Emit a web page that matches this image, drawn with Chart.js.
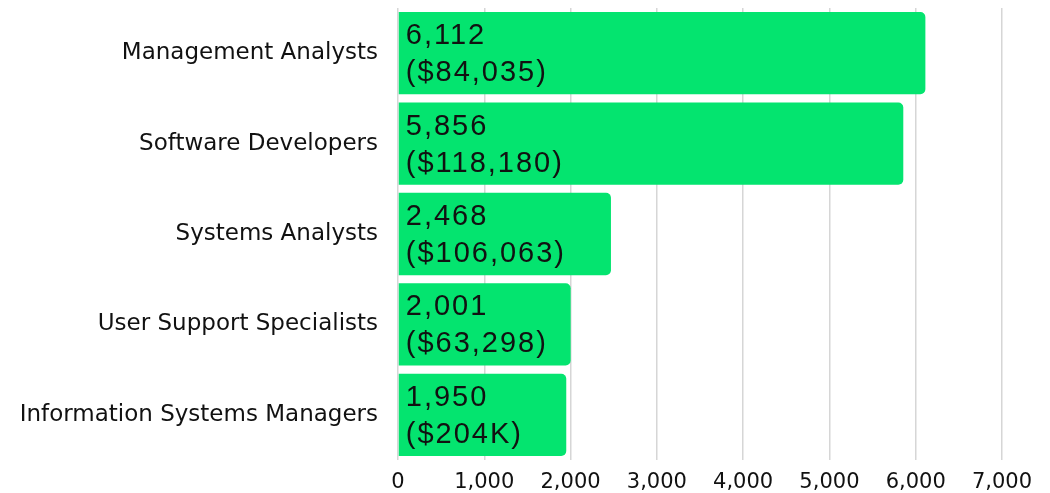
<!DOCTYPE html>
<html>
<head>
<meta charset="utf-8">
<script src="https://cdn.jsdelivr.net/npm/chart.js@4/dist/chart.umd.min.js"></script>
<style>
  html, body { margin: 0; padding: 0; background: #fff; }
  #wrap { width: 1050px; height: 493px; }
</style>
</head>
<body>
<div id="wrap"><canvas id="jobsChart" width="1050" height="493"></canvas></div>
<script>
// occupations, job postings and median salary
const occupations = [
  "Management Analysts",
  "Software Developers",
  "Systems Analysts",
  "User Support Specialists",
  "Information Systems Managers",
];
const postings = [6112, 5856, 2468, 2001, 1950];
const salaries = ["$84,035", "$118,180", "$106,063", "$63,298", "$204K"];
const xTicks = [0, 1000, 2000, 3000, 4000, 5000, 6000, 7000];

// labels inside the bars, two lines
const insideLabels = {
  id: "insideLabels",
  afterDatasetsDraw(chart) {
    const { ctx } = chart;
    const meta = chart.getDatasetMeta(0);
    ctx.save();
    ctx.fillStyle = "#111";
    ctx.font = "29px 'Liberation Sans', Arial, sans-serif";
    ctx.textAlign = "left";
    ctx.textBaseline = "middle";
    if ("letterSpacing" in ctx) ctx.letterSpacing = "2px";
    meta.data.forEach((bar, i) => {
      const x = bar.base + 7;
      ctx.fillText(postings[i].toLocaleString("en-US"), x, bar.y - 17);
      ctx.fillText("(" + salaries[i] + ")", x, bar.y + 20);
    });
    ctx.restore();
  },
};

new Chart(document.getElementById("jobsChart"), {
  type: "bar",
  data: {
    labels: occupations,
    datasets: [
      {
        data: postings,
        backgroundColor: "#04e46f",
        borderRadius: 5,
        borderSkipped: "start",
        barPercentage: 0.91,
        categoryPercentage: 1,
      },
    ],
  },
  options: {
    indexAxis: "y",
    responsive: false,
    animation: false,
    layout: { padding: { top: 8, right: 48, bottom: 0, left: 0 } },
    plugins: {
      legend: { display: false },
      tooltip: { enabled: false },
    },
    scales: {
      x: {
        min: 0,
        max: 7000,
        afterBuildTicks: (axis) => {
          axis.ticks = xTicks.map((v) => ({ value: v }));
        },
        grid: { color: "#d6d6d6", lineWidth: 1.5, drawTicks: false },
        border: { display: false },
        ticks: {
          color: "#111",
          padding: 10,
          font: { family: "'DejaVu Sans', sans-serif", size: 21 },
          callback: (v) => v.toLocaleString("en-US"),
        },
        afterFit: (axis) => { axis.height = 33; },
      },
      y: {
        grid: { display: false },
        border: { display: false },
        ticks: {
          color: "#111",
          padding: 12,
          font: { family: "'DejaVu Sans', sans-serif", size: 23 },
        },
        afterFit: (axis) => {
          axis.width = 398;
          axis.paddingTop = 0;
          axis.paddingBottom = 0;
        },
      },
    },
  },
  plugins: [insideLabels],
});
</script>
</body>
</html>
